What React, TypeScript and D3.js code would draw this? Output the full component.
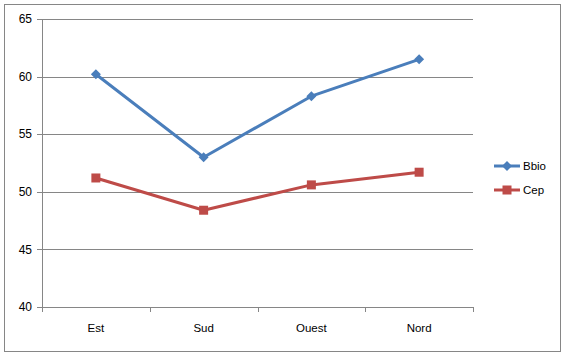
import React from "react";
import * as d3 from "d3";

const categories = ["Est", "Sud", "Ouest", "Nord"];
const bbio = [60.2, 53.0, 58.3, 61.5];
const cep = [51.2, 48.4, 50.6, 51.7];
const yTicks = [40, 45, 50, 55, 60, 65];
const seriesNames = ["Bbio", "Cep"];

const W = 566, H = 356;
const plot = { left: 42, right: 473, top: 19, bottom: 307 };
const font = "'Liberation Sans', Arial, sans-serif";
const axisColor = "#868686";
const colors = ["#4A7EBB", "#BE4B48"];

export default function App() {
  const x = d3.scaleBand<string>().domain(categories).range([plot.left, plot.right]);
  const y = d3.scaleLinear().domain([40, 65]).range([plot.bottom, plot.top]);
  const line = d3.line<number>().x((_, i) => x(categories[i])! + x.bandwidth() / 2).y((v) => y(v));
  const series = [bbio, cep];
  const bounds = [plot.left, ...categories.map((c) => x(c)! + x.bandwidth())];

  const marker = (si: number, cx: number, cy: number, key: any) =>
    si === 0 ? (
      <path key={key} d={`M${cx},${cy - 5}L${cx + 5},${cy}L${cx},${cy + 5}L${cx - 5},${cy}Z`} fill={colors[0]} />
    ) : (
      <rect key={key} x={cx - 4.5} y={cy - 4.5} width={9} height={9} fill={colors[1]} />
    );

  return (
    <div style={{ position: "absolute", left: 0, top: 0 }}>
      <svg width={W} height={H} style={{ display: "block", fontFamily: font }}>
        <rect x={0} y={0} width={W} height={H} fill="#fff" />
        <rect x={4.5} y={4.5} width={556} height={347} fill="none" stroke={axisColor} strokeWidth={1} />
        {yTicks.map((t) => (
          <g key={t}>
            {t !== 40 && (
              <line x1={plot.left} x2={plot.right} y1={Math.round(y(t)) + 0.5} y2={Math.round(y(t)) + 0.5} stroke={axisColor} />
            )}
            <line x1={plot.left - 5} x2={plot.left} y1={Math.round(y(t)) + 0.5} y2={Math.round(y(t)) + 0.5} stroke={axisColor} />
            <text x={32} y={y(t)} dy="0.35em" textAnchor="end" fontSize={12} fill="#000">
              {t}
            </text>
          </g>
        ))}
        <line x1={plot.left + 0.5} x2={plot.left + 0.5} y1={plot.top} y2={plot.bottom} stroke={axisColor} />
        <line x1={plot.left} x2={plot.right} y1={plot.bottom + 0.5} y2={plot.bottom + 0.5} stroke={axisColor} />
        {bounds.map((b, i) => (
          <line key={i} x1={Math.round(b) + 0.5} x2={Math.round(b) + 0.5} y1={plot.bottom} y2={plot.bottom + 5} stroke={axisColor} />
        ))}
        {categories.map((c) => (
          <text key={c} x={x(c)! + x.bandwidth() / 2} y={plot.bottom + 21} dy="0.35em" textAnchor="middle" fontSize={11.5} fill="#000">
            {c}
          </text>
        ))}
        {series.map((s, si) => (
          <g key={si}>
            <path d={line(s)!} fill="none" stroke={colors[si]} strokeWidth={3} strokeLinejoin="round" />
            {s.map((v, i) => marker(si, x(categories[i])! + x.bandwidth() / 2, y(v), i))}
          </g>
        ))}
        {seriesNames.map((n, si) => {
          const ly = 166 + si * 24;
          return (
            <g key={n}>
              <line x1={494} x2={520} y1={ly} y2={ly} stroke={colors[si]} strokeWidth={3} />
              {marker(si, 507, ly, "m")}
              <text x={523} y={ly} dy="0.35em" fontSize={11.5} fill="#000">
                {n}
              </text>
            </g>
          );
        })}
      </svg>
    </div>
  );
}
